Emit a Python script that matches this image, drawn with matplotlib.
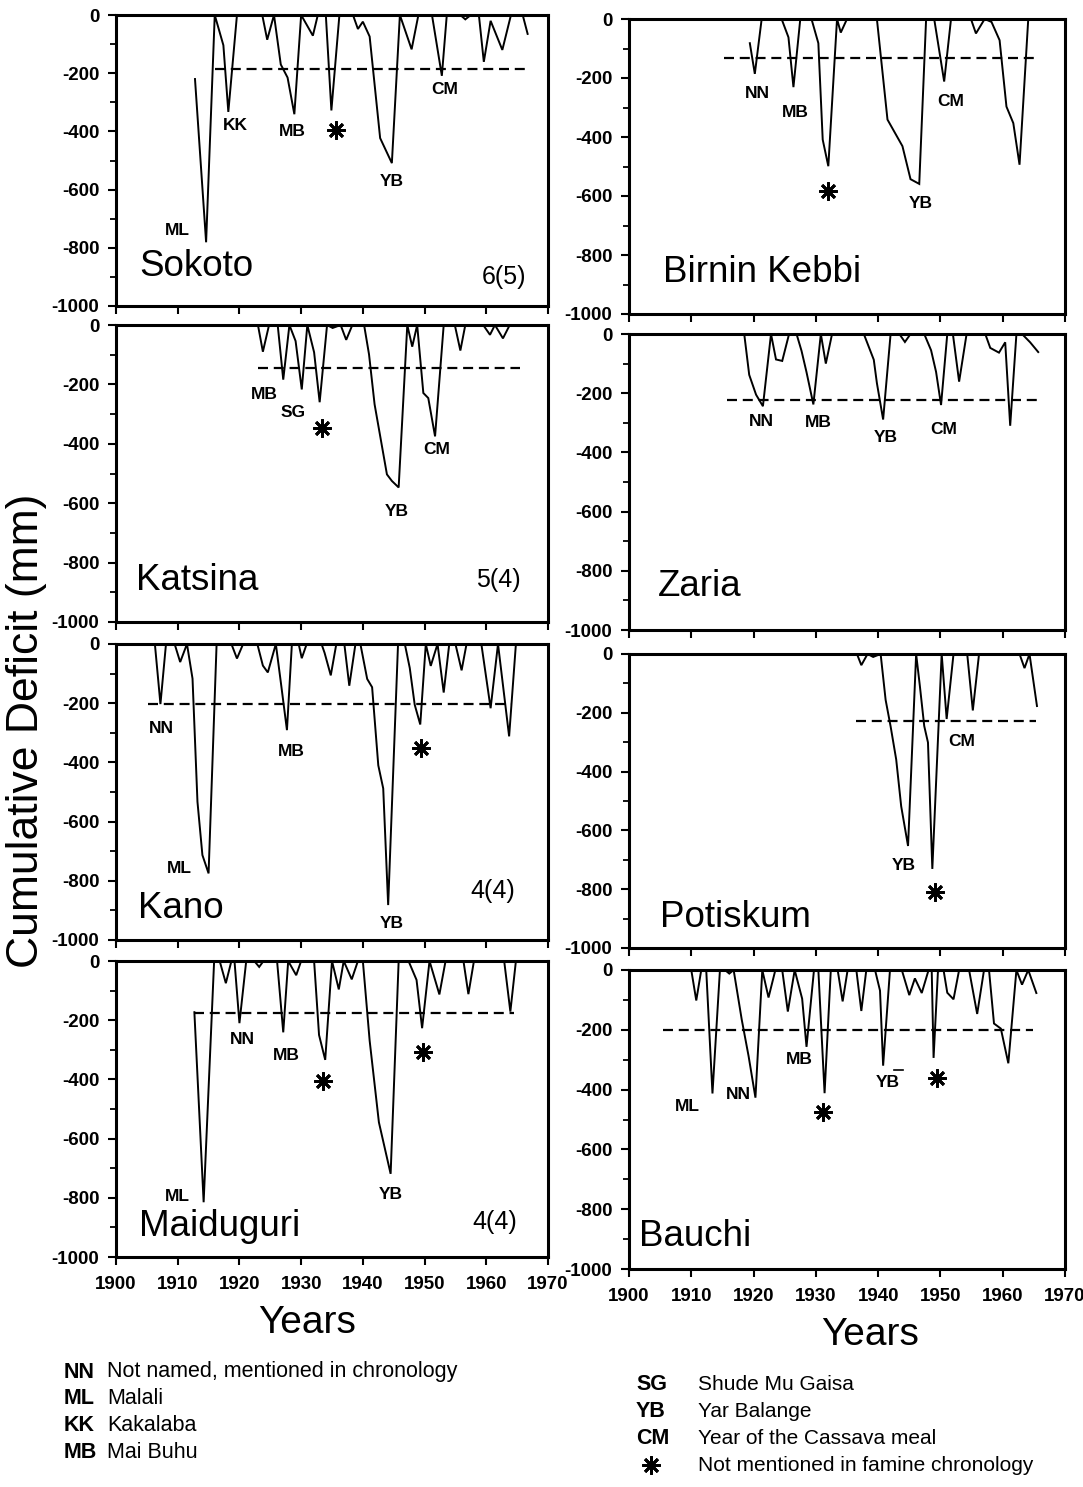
import matplotlib
matplotlib.use("Agg")
import matplotlib.pyplot as plt
from matplotlib.lines import Line2D
from matplotlib.ticker import MultipleLocator

plt.rcParams["font.family"] = ["Liberation Sans", "DejaVu Sans"]
plt.rcParams["axes.unicode_minus"] = False

# ---- data (year, cumulative deficit in mm) ----
sokoto_years = [1912.8, 1914.6, 1916.0, 1917.4, 1918.2, 1919.6, 1923.7, 1924.5, 1925.6, 1926.7,
                1927.8, 1928.9, 1930.0, 1931.9, 1932.7, 1934.0, 1934.9, 1936.2, 1938.4, 1939.2,
                1940.0, 1941.1, 1942.8, 1944.7, 1946.0, 1947.9, 1949.0, 1951.2, 1952.8, 1953.6,
                1955.8, 1956.6, 1957.5, 1958.8, 1959.6, 1960.7, 1962.6, 1964.0, 1965.9, 1966.7]
sokoto_deficit = [-220, -781, 0, -104, -333, 0, 0, -85, 0, -170,
                  -215, -341, 0, -71, 0, 0, -328, 0, 0, -48,
                  -23, -74, -423, -509, 0, -118, 0, 0, -209, 0,
                  0, -15, 0, 0, -161, -20, -120, 0, 0, -65]

kebbi_years = [1919.4, 1920.2, 1921.3, 1924.5, 1925.6, 1926.4, 1927.5, 1929.3, 1930.4, 1931.1,
               1932.0, 1933.4, 1934.0, 1935.0, 1939.8, 1941.5, 1943.9, 1945.2, 1946.6, 1947.7,
               1949.0, 1950.6, 1951.7, 1954.9, 1955.7, 1957.1, 1958.2, 1959.5, 1960.6, 1961.7,
               1962.7, 1964.1]
kebbi_deficit = [-82, -186, 0, 0, -62, -231, 0, 0, -82, -409,
                 -499, 0, -46, 0, 0, -341, -431, -543, -559, 0,
                 0, -212, 0, 0, -49, 0, -10, -72, -297, -353,
                 -494, 0]

katsina_years = [1923.0, 1923.8, 1924.8, 1926.2, 1927.1, 1928.1, 1929.1, 1930.1, 1931.0, 1932.1,
                 1933.0, 1934.2, 1935.1, 1936.4, 1937.3, 1938.3, 1940.2, 1941.0, 1941.9, 1943.9,
                 1944.7, 1945.8, 1947.2, 1948.0, 1948.8, 1949.8, 1950.6, 1951.7, 1953.1, 1954.9,
                 1955.8, 1956.6, 1959.5, 1960.6, 1961.4, 1962.7, 1963.8, 1965.2]
katsina_deficit = [0, -90, 0, 0, -184, 0, -54, -217, 0, -92,
                   -260, 0, -10, 0, -50, 0, 0, -99, -267, -503,
                   -525, -547, 0, -73, 0, -229, -246, -375, 0, 0,
                   -86, 0, 0, -33, 0, -45, 0, 0]

zaria_years = [1918.5, 1919.3, 1920.4, 1921.5, 1922.8, 1923.6, 1924.6, 1925.7, 1926.9, 1927.7,
               1928.5, 1929.6, 1930.8, 1931.6, 1932.6, 1937.7, 1939.3, 1939.8, 1940.8, 1942.0,
               1943.4, 1944.3, 1945.2, 1947.4, 1948.5, 1949.3, 1950.1, 1951.1, 1952.0, 1953.0,
               1954.2, 1957.2, 1958.0, 1959.4, 1960.4, 1961.2, 1962.2, 1963.1, 1964.4, 1965.7]
zaria_deficit = [0, -138, -205, -244, 0, -86, -91, 0, 0, -57,
                 -129, -238, 0, -100, 0, 0, -87, -166, -289, 0,
                 0, -27, 0, 0, -55, -128, -240, 0, 0, -161,
                 0, 0, -47, -63, -28, -310, 0, 0, -28, -61]

kano_years = [1906.3, 1907.2, 1908.1, 1909.5, 1910.4, 1911.5, 1912.4, 1913.2, 1914.0, 1915.0,
              1916.3, 1918.7, 1919.6, 1920.6, 1922.9, 1923.8, 1924.6, 1925.9, 1926.7, 1927.7,
              1928.5, 1929.6, 1930.1, 1930.9, 1933.3, 1933.8, 1934.8, 1935.7, 1937.0, 1937.8,
              1938.8, 1939.6, 1940.7, 1941.5, 1942.5, 1943.3, 1944.1, 1945.7, 1946.8, 1947.6,
              1948.4, 1949.3, 1950.2, 1951.0, 1952.1, 1953.1, 1954.0, 1955.0, 1956.0, 1956.8,
              1959.2, 1960.7, 1961.9, 1963.7, 1964.8]
kano_deficit = [0, -203, 0, 0, -61, 0, -117, -533, -713, -775,
                0, 0, -49, 0, 0, -73, -96, 0, -128, -291,
                0, 0, -48, 0, 0, -30, -106, 0, 0, -141,
                0, 0, -118, -146, -410, -488, -882, 0, 0, -81,
                -205, -272, 0, -74, 0, -164, 0, 0, -89, 0,
                0, -217, 0, -312, 0]

potiskum_years = [1936.6, 1937.3, 1938.3, 1939.2, 1940.4, 1941.2, 1942.0, 1942.9, 1943.7, 1944.8,
                  1946.1, 1946.7, 1947.4, 1948.0, 1948.7, 1950.2, 1951.0, 1952.1, 1954.3, 1955.2,
                  1956.2, 1962.7, 1963.5, 1964.3, 1965.5]
potiskum_deficit = [0, -38, 0, -10, 0, -156, -246, -359, -518, -653,
                    0, -109, -245, -301, -731, 0, -221, 0, 0, -192,
                    0, 0, -48, 0, -177]

maiduguri_years = [1912.7, 1914.2, 1915.9, 1916.8, 1917.8, 1918.7, 1919.2, 1920.0, 1921.1, 1922.4,
                   1923.2, 1923.9, 1926.1, 1927.1, 1927.9, 1929.2, 1930.0, 1932.1, 1932.9, 1933.9,
                   1935.0, 1936.1, 1936.9, 1938.2, 1939.2, 1940.0, 1941.1, 1942.6, 1944.5, 1945.8,
                   1947.4, 1948.7, 1949.6, 1950.8, 1952.4, 1953.4, 1956.3, 1957.1, 1958.0, 1962.9,
                   1963.9, 1964.8]
maiduguri_deficit = [-173, -815, 0, 0, -75, 0, 0, -210, 0, 0,
                     -20, 0, 0, -241, 0, -48, 0, 0, -250, -334,
                     0, -96, 0, -62, 0, 0, -269, -545, -719, 0,
                     0, -64, -227, 0, -113, 0, 0, -112, 0, 0,
                     -171, 0]

bauchi_years = [1910.0, 1910.8, 1911.6, 1912.4, 1913.4, 1914.6, 1915.4, 1916.1, 1916.8, 1918.1,
                1919.2, 1920.3, 1921.4, 1922.4, 1923.5, 1924.6, 1925.5, 1926.6, 1927.8, 1928.5,
                1929.7, 1930.4, 1931.4, 1932.4, 1933.5, 1934.3, 1935.1, 1936.5, 1937.3, 1938.1,
                1939.5, 1940.3, 1940.8, 1941.9, 1943.8, 1945.0, 1945.9, 1947.0, 1948.1, 1948.6,
                1948.9, 1949.6, 1950.5, 1951.1, 1952.1, 1953.0, 1954.6, 1955.9, 1957.0, 1957.8,
                1958.6, 1959.7, 1960.9, 1962.2, 1963.1, 1964.1, 1965.4]
bauchi_deficit = [0, -102, 0, 0, -413, 0, 0, -12, 0, -166,
                  -288, -427, 0, -92, 0, 0, -139, 0, -96, -257,
                  0, 0, -412, 0, 0, -105, 0, 0, -137, 0,
                  0, -69, -320, 0, 0, -84, -28, -77, 0, 0,
                  -294, -5, 0, -76, -98, 0, 0, -147, 0, 0,
                  -179, -196, -312, 0, -49, 0, -77]

# dashed reference level: (first year, last year, level)
sokoto_mean = (1916.1, 1966.7, -185)
kebbi_mean = (1915.3, 1965.2, -133)
katsina_mean = (1923.0, 1965.4, -145)
zaria_mean = (1915.8, 1965.6, -222)
kano_mean = (1905.2, 1964.2, -203)
potiskum_mean = (1936.4, 1965.3, -227)
maiduguri_mean = (1912.7, 1964.5, -175)
bauchi_mean = (1905.4, 1964.9, -202)

# famine labels (code, year, value) and unlisted-famine asterisks
sokoto_labels = [("ML", 1909.9, -742), ("KK", 1919.3, -379), ("MB", 1928.5, -399),
                 ("YB", 1944.7, -572), ("CM", 1953.2, -257)]
kebbi_labels = [("NN", 1920.6, -251), ("MB", 1926.7, -318), ("YB", 1946.8, -627),
                ("CM", 1951.7, -279)]
katsina_labels = [("MB", 1924.0, -233), ("SG", 1928.7, -296), ("YB", 1945.5, -627),
                  ("CM", 1952.0, -419)]
zaria_labels = [("NN", 1921.2, -297), ("MB", 1930.4, -298), ("YB", 1941.2, -351),
                ("CM", 1950.6, -322)]
kano_labels = [("NN", 1907.4, -285), ("ML", 1910.3, -760), ("MB", 1928.4, -364),
               ("YB", 1944.7, -944)]
potiskum_labels = [("YB", 1944.1, -721), ("CM", 1953.4, -297)]
maiduguri_labels = [("ML", 1910.0, -794), ("NN", 1920.4, -266), ("MB", 1927.6, -320),
                    ("YB", 1944.6, -789)]
bauchi_labels = [("ML", 1909.4, -457), ("NN", 1917.5, -417), ("MB", 1927.4, -299),
                 ("YB", 1941.5, -375)]

sokoto_stars = [(1935.6, -395)]
kebbi_stars = [(1932.0, -584)]
katsina_stars = [(1933.3, -348)]
zaria_stars = []
kano_stars = [(1949.4, -351)]
potiskum_stars = [(1949.1, -808)]
maiduguri_stars = [(1933.6, -405), (1949.7, -306)]
bauchi_stars = [(1931.2, -476), (1949.4, -361)]

# station name (text, year, value) and count (text, year, value)
station_names = {
    "sokoto": ("Sokoto", 1903.8, -864), "kebbi": ("Birnin Kebbi", 1905.4, -859),
    "katsina": ("Katsina", 1903.3, -860), "zaria": ("Zaria", 1904.7, -852),
    "kano": ("Kano", 1903.5, -892), "potiskum": ("Potiskum", 1904.9, -897),
    "maiduguri": ("Maiduguri", 1903.8, -897), "bauchi": ("Bauchi", 1901.6, -891),
}
station_counts = {
    "sokoto": ("6(5)", 1962.9, -899), "katsina": ("5(4)", 1961.9, -860),
    "kano": ("4(4)", 1961.1, -836), "maiduguri": ("4(4)", 1961.3, -882),
}

left_codes = ["NN", "ML", "KK", "MB"]
left_names = ["Not named, mentioned in chronology", "Malali", "Kakalaba", "Mai Buhu"]
right_codes = ["SG", "YB", "CM"]
right_names = ["Shude Mu Gaisa", "Yar Balange", "Year of the Cassava meal",
               "Not mentioned in famine chronology"]

W, H = 1083, 1487
fig = plt.figure(figsize=(W / 100, H / 100), dpi=100)

STAR = (8, 2, 0)


def rect(x0, x1, top, bottom):
    return [x0 / W, 1 - bottom / H, (x1 - x0) / W, (bottom - top) / H]


def draw_panel(ax, key, years, deficit, mean, labels, stars, bottom_row):
    ax.plot(years, deficit, color="black", lw=1.4, solid_joinstyle="miter")
    ax.plot([mean[0], mean[1]], [mean[2], mean[2]], color="black", lw=1.6,
            ls=(0, (4.5, 2.6)))
    for code, x, y in labels:
        ax.text(x, y, code, ha="center", va="center", fontsize=12.5, fontweight="bold")
    for x, y in stars:
        ax.plot([x], [y], marker=STAR, color="black", ms=13, mew=2.0, ls="none")
    name, nx, ny = station_names[key]
    ax.text(nx, ny, name, ha="left", va="center", fontsize=26.5)
    if key in station_counts:
        c, cx, cy = station_counts[key]
        ax.text(cx, cy, c, ha="center", va="center", fontsize=18)

    ax.set_xlim(1900, 1970)
    ax.set_ylim(-1000, 0)
    ax.set_yticks([0, -200, -400, -600, -800, -1000])
    ax.yaxis.set_minor_locator(MultipleLocator(100))
    ax.set_xticks(range(1900, 1971, 10))
    for s in ax.spines.values():
        s.set_linewidth(2.2)
    ax.tick_params(which="major", direction="out", length=6, width=1.5, pad=6)
    ax.tick_params(which="minor", direction="out", length=4, width=1.3)
    for t in ax.get_yticklabels():
        t.set_fontsize(13.5)
        t.set_fontweight("bold")
    if bottom_row:
        ax.tick_params(axis="x", pad=8)
        for t in ax.get_xticklabels():
            t.set_fontsize(13.5)
            t.set_fontweight("bold")
    else:
        ax.set_xticklabels([])


left_rows = [(15, 306), (325, 622), (644, 940), (961, 1257)]
right_rows = [(19, 314), (334, 630), (654, 948), (970, 1269)]

left_panels = [
    ("sokoto", sokoto_years, sokoto_deficit, sokoto_mean, sokoto_labels, sokoto_stars),
    ("katsina", katsina_years, katsina_deficit, katsina_mean, katsina_labels, katsina_stars),
    ("kano", kano_years, kano_deficit, kano_mean, kano_labels, kano_stars),
    ("maiduguri", maiduguri_years, maiduguri_deficit, maiduguri_mean, maiduguri_labels,
     maiduguri_stars),
]
right_panels = [
    ("kebbi", kebbi_years, kebbi_deficit, kebbi_mean, kebbi_labels, kebbi_stars),
    ("zaria", zaria_years, zaria_deficit, zaria_mean, zaria_labels, zaria_stars),
    ("potiskum", potiskum_years, potiskum_deficit, potiskum_mean, potiskum_labels,
     potiskum_stars),
    ("bauchi", bauchi_years, bauchi_deficit, bauchi_mean, bauchi_labels, bauchi_stars),
]

for i, (panel, (top, bottom)) in enumerate(zip(left_panels, left_rows)):
    ax = fig.add_axes(rect(116, 548, top, bottom))
    draw_panel(ax, *panel, bottom_row=(i == 3))

for i, (panel, (top, bottom)) in enumerate(zip(right_panels, right_rows)):
    ax = fig.add_axes(rect(629, 1065, top, bottom))
    draw_panel(ax, *panel, bottom_row=(i == 3))
    if panel[0] == "bauchi":
        bauchi_ax = ax

# small bar over the Bauchi "YB" label
bauchi_ax.plot([1942.6, 1944.0], [-336, -336], color="black", lw=1.2)

fig.text(27 / W, 1 - 731 / H, "Cumulative Deficit (mm)", rotation=90,
         ha="center", va="center", fontsize=32)
fig.text(307 / W, 1 - 1323 / H, "Years", ha="center", va="center", fontsize=28)
fig.text(870 / W, 1 - 1335 / H, "Years", ha="center", va="center", fontsize=28)

# key
for j, (code, name) in enumerate(zip(left_codes, left_names)):
    y = 1 - (1372 + 26.7 * j) / H
    fig.text(64 / W, y, code, ha="left", va="center", fontsize=15.5, fontweight="bold")
    fig.text(107 / W, y, name, ha="left", va="center", fontsize=15.5)

for j, name in enumerate(right_names):
    y = 1 - (1385 + 26.7 * j) / H
    if j < len(right_codes):
        fig.text(636 / W, y, right_codes[j], ha="left", va="center", fontsize=15.5,
                 fontweight="bold")
    else:
        fig.add_artist(Line2D([651 / W], [y], marker=STAR, color="black", ms=13,
                              mew=2.0, transform=fig.transFigure))
    fig.text(698 / W, y, name, ha="left", va="center", fontsize=15)

fig.savefig("out.png", dpi=100, facecolor="white")
